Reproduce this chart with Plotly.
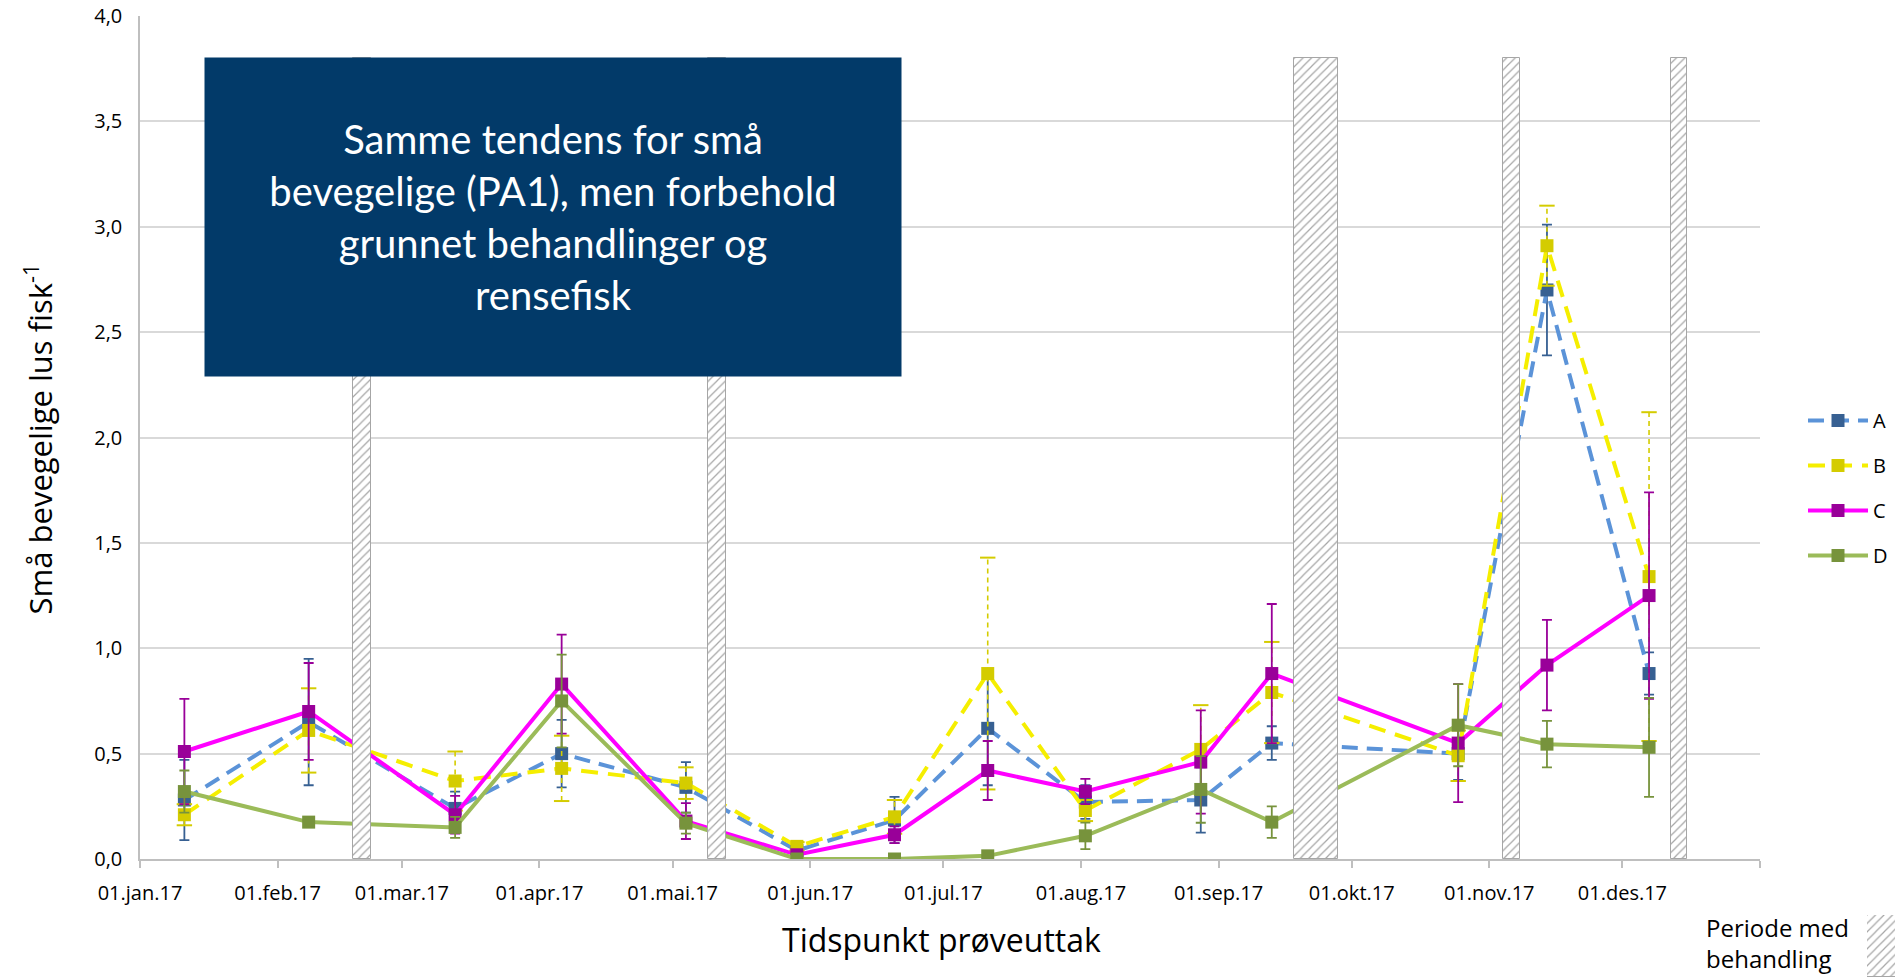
import pandas as pd
import plotly.graph_objects as go

# sampling dates and mean number of small mobile lice per fish
sample_dates = [
    "2017-01-11", "2017-02-08", "2017-03-13", "2017-04-06", "2017-05-04",
    "2017-05-29", "2017-06-20", "2017-07-11", "2017-08-02", "2017-08-28",
    "2017-09-13", "2017-10-25", "2017-11-14", "2017-12-07",
]

a_values = [0.28, 0.65, 0.24, 0.50, 0.34, 0.04, 0.185, 0.62, 0.27, 0.28, 0.55, 0.50, 2.70, 0.88]
a_errors = [0.19, 0.30, 0.08, 0.16, 0.12, 0.02, 0.11, 0.27, 0.08, 0.155, 0.08, 0.125, 0.31, 0.10]

b_values = [0.21, 0.61, 0.37, 0.43, 0.36, 0.06, 0.20, 0.88, 0.23, 0.52, 0.79, 0.49, 2.91, 1.34]
b_errors = [0.05, 0.20, 0.14, 0.155, 0.075, 0.02, 0.08, 0.55, 0.05, 0.21, 0.24, 0.12, 0.19, 0.78]

c_values = [0.51, 0.70, 0.21, 0.83, 0.18, 0.02, 0.115, 0.42, 0.32, 0.46, 0.88, 0.55, 0.92, 1.25]
c_errors = [0.25, 0.23, 0.09, 0.235, 0.085, 0.01, 0.04, 0.14, 0.06, 0.245, 0.33, 0.28, 0.215, 0.49]

d_values = [0.32, 0.175, 0.15, 0.75, 0.17, 0.0, 0.0, 0.015, 0.11, 0.33, 0.175, 0.635, 0.545, 0.53]
d_errors = [0.10, 0.0, 0.05, 0.22, 0.05, 0.0, 0.0, 0.0, 0.063, 0.158, 0.075, 0.195, 0.11, 0.235]

# treatment periods (hatched columns)
treatment_start = ["2017-02-18", "2017-05-09", "2017-09-18", "2017-11-04", "2017-12-12"]
treatment_end = ["2017-02-22", "2017-05-13", "2017-09-28", "2017-11-08", "2017-12-15 12:00"]
treatment_level = 3.8

month_ticks = [
    "2017-01-01", "2017-02-01", "2017-03-01", "2017-04-01", "2017-05-01", "2017-06-01",
    "2017-07-01", "2017-08-01", "2017-09-01", "2017-10-01", "2017-11-01", "2017-12-01",
    "2018-01-01",
]
month_labels = [
    "01.jan.17", "01.feb.17", "01.mar.17", "01.apr.17", "01.mai.17", "01.jun.17",
    "01.jul.17", "01.aug.17", "01.sep.17", "01.okt.17", "01.nov.17", "01.des.17", "",
]

box_text = "Samme tendens for små<br>bevegelige (PA1), men forbehold<br>grunnet behandlinger og<br>rensefisk"
treatment_label = "Periode med<br>behandling"

FONT = "Open Sans"
GRID = "#D9D9D9"
AXIS = "#BFBFBF"
HATCH = dict(
    color="white",
    line=dict(color="#A6A6A6", width=1),
    pattern=dict(shape="/", fgcolor="#A6A6A6", bgcolor="white", size=6, solidity=0.2),
)


def add_series(fig, name, values, errors, line_color, marker_color, dash, dashed_errors=False):
    if dashed_errors:
        # excel draws these error bars dashed; plotly error_y cannot, so draw them as lines
        ex, ey = [], []
        for d, v, e in zip(sample_dates, values, errors):
            ex += [d, d, None]
            ey += [v - e, v + e, None]
        fig.add_trace(go.Scatter(
            x=ex, y=ey, mode="lines+markers", showlegend=False, hoverinfo="skip",
            line=dict(color=marker_color, width=1.6, dash="5px,4px"),
            marker=dict(symbol="line-ew", size=11, line=dict(color=marker_color, width=2)),
        ))
        error_y = None
    else:
        error_y = dict(type="data", array=errors, color=marker_color, thickness=1.8, width=5)

    fig.add_trace(go.Scatter(
        x=sample_dates, y=values, name=name, mode="lines+markers",
        legendgroup=name,
        line=dict(color=line_color, width=4, dash=dash),
        marker=dict(symbol="square", size=13, color=marker_color),
        error_y=error_y,
    ))


fig = go.Figure()
add_series(fig, "A", a_values, a_errors, "#5B93D8", "#376092", "16px,9px")
add_series(fig, "B", b_values, b_errors, "#F5EE00", "#D4CC00", "17px,10px", dashed_errors=True)
add_series(fig, "C", c_values, c_errors, "#FF00FF", "#990099", "solid")
add_series(fig, "D", d_values, d_errors, "#9BBB59", "#77933C", "solid")

start = pd.to_datetime(pd.Series(treatment_start), format="ISO8601")
end = pd.to_datetime(pd.Series(treatment_end), format="ISO8601")
centers = start + (end - start) / 2
widths = (end - start) / pd.Timedelta(milliseconds=1)

# hatched treatment columns sit on an overlaying axis so they cover the lines
fig.add_trace(go.Bar(
    x=centers, y=[treatment_level] * len(treatment_start), width=widths,
    yaxis="y2", showlegend=False, hoverinfo="skip", marker=HATCH,
))

# legend key for the treatment columns, on its own little axis in the corner
fig.add_trace(go.Bar(
    x=[0], y=[treatment_level], width=1, xaxis="x3", yaxis="y3",
    showlegend=False, hoverinfo="skip", marker=HATCH,
))

fig.update_layout(
    width=1895, height=977,
    template="none",
    margin=dict(l=0, r=0, t=0, b=0),
    paper_bgcolor="white", plot_bgcolor="white",
    font=dict(family=FONT, size=20, color="black"),
    showlegend=True,
    bargap=0,
    xaxis=dict(
        domain=[140 / 1895, 1760 / 1895],
        type="date", range=["2017-01-01", "2018-01-01"],
        tickvals=month_ticks, ticktext=month_labels,
        ticks="outside", ticklen=7, tickcolor=AXIS, tickwidth=1.5,
        ticklabelstandoff=8,
        showline=True, linecolor=AXIS, linewidth=1.5,
        showgrid=False, zeroline=False, automargin=False,
        tickfont=dict(size=20),
    ),
    yaxis=dict(
        domain=[(977 - 859) / 977, (977 - 16) / 977],
        range=[0, 4], tickvals=[0, 0.5, 1, 1.5, 2, 2.5, 3, 3.5, 4],
        ticktext=["0,0", "0,5", "1,0", "1,5", "2,0", "2,5", "3,0", "3,5", "4,0"],
        showline=True, linecolor=AXIS, linewidth=1.5,
        showgrid=True, gridcolor=GRID, gridwidth=2,
        zeroline=False, ticks="", ticklabelstandoff=12, automargin=False,
        tickfont=dict(size=20),
    ),
    yaxis2=dict(
        range=[0, 4], overlaying="y", visible=False, showgrid=False,
    ),
    xaxis3=dict(
        domain=[1867 / 1895, 1.0], anchor="y3", range=[-0.5, 0.25],
        visible=False, showgrid=False,
    ),
    yaxis3=dict(
        domain=[0, 62 / 977], anchor="x3", range=[0, treatment_level * 0.995],
        visible=False, showgrid=False,
    ),
    legend=dict(
        x=1803 / 1895, xanchor="left", y=0.5005, yanchor="middle",
        font=dict(size=20), tracegroupgap=16, traceorder="grouped",
        itemwidth=60, bgcolor="rgba(0,0,0,0)",
    ),
    annotations=[
        dict(
            text=box_text, xref="paper", yref="paper", x=204 / 1895, y=(977 - 57) / 977,
            xanchor="left", yanchor="top", width=696, height=318,
            showarrow=False, bgcolor="#023A69", borderpad=0, align="center", valign="middle",
            font=dict(family="Lato", size=40, color="white"),
        ),
        dict(
            text="Små bevegelige lus fisk<sup>-1</sup>", xref="paper", yref="paper",
            x=38 / 1895, y=0.5502, xanchor="center", yanchor="middle", textangle=-90,
            showarrow=False, font=dict(size=31),
        ),
        dict(
            text="Tidspunkt prøveuttak", xref="paper", yref="paper",
            x=941 / 1895, y=0.0381, xanchor="center", yanchor="middle",
            showarrow=False, font=dict(size=32),
        ),
        dict(
            text=treatment_label, xref="paper", yref="paper",
            x=1704 / 1895, y=(977 - 943) / 977, xanchor="left", yanchor="middle",
            align="left", showarrow=False, font=dict(size=24),
        ),
    ],
)

fig.write_html(
    "out.html",
    config={"displayModeBar": False},
    post_script="document.body.style.margin = '0';",
)
